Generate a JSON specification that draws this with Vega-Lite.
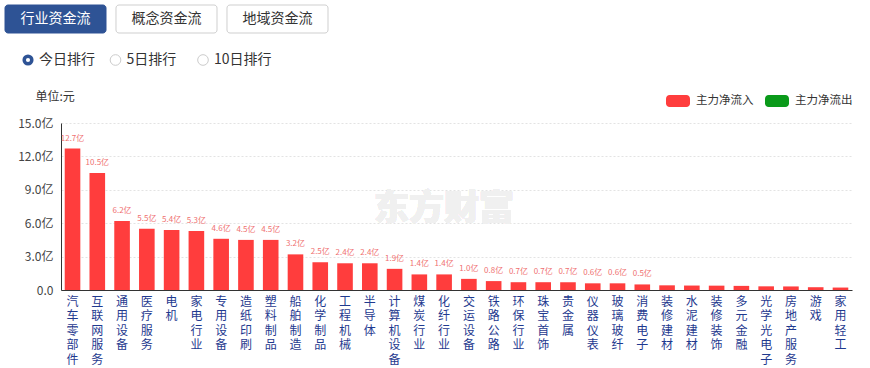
{
  "$schema": "https://vega.github.io/schema/vega-lite/v6.json",
  "width": 791,
  "height": 167,
  "autosize": {"type": "none"},
  "padding": {"left": 61, "top": 123, "right": 18, "bottom": 78},
  "background": "white",
  "config": {"font": "Noto Sans CJK SC", "view": {"stroke": null}},
  "datasets": {
    "flows": [
      {"industry": "汽车零部件", "v": 12.7},
      {"industry": "互联网服务", "v": 10.5},
      {"industry": "通用设备", "v": 6.2},
      {"industry": "医疗服务", "v": 5.5},
      {"industry": "电机", "v": 5.4},
      {"industry": "家电行业", "v": 5.3},
      {"industry": "专用设备", "v": 4.6},
      {"industry": "造纸印刷", "v": 4.5},
      {"industry": "塑料制品", "v": 4.5},
      {"industry": "船舶制造", "v": 3.2},
      {"industry": "化学制品", "v": 2.5},
      {"industry": "工程机械", "v": 2.4},
      {"industry": "半导体", "v": 2.4},
      {"industry": "计算机设备", "v": 1.9},
      {"industry": "煤炭行业", "v": 1.4},
      {"industry": "化纤行业", "v": 1.4},
      {"industry": "交运设备", "v": 1.0},
      {"industry": "铁路公路", "v": 0.8},
      {"industry": "环保行业", "v": 0.7},
      {"industry": "珠宝首饰", "v": 0.7},
      {"industry": "贵金属", "v": 0.7},
      {"industry": "仪器仪表", "v": 0.6},
      {"industry": "玻璃玻纤", "v": 0.6},
      {"industry": "消费电子", "v": 0.5},
      {"industry": "装修建材", "v": 0.42},
      {"industry": "水泥建材", "v": 0.4},
      {"industry": "装修装饰", "v": 0.39},
      {"industry": "多元金融", "v": 0.37},
      {"industry": "光学光电子", "v": 0.33},
      {"industry": "房地产服务", "v": 0.32},
      {"industry": "游戏", "v": 0.25},
      {"industry": "家用轻工", "v": 0.22}
    ],
    "tabs": [
      {"tab": "行业资金流", "sel": true},
      {"tab": "概念资金流", "sel": false},
      {"tab": "地域资金流", "sel": false}
    ],
    "ranks": [
      {"rank": "今日排行", "sel": true},
      {"rank": "5日排行", "sel": false},
      {"rank": "10日排行", "sel": false}
    ]
  },
  "layer": [
    {
      "data": {"name": "flows"},
      "encoding": {
        "x": {
          "field": "industry", "type": "nominal", "sort": null,
          "scale": {"paddingInner": 0.37, "paddingOuter": 0.15},
          "axis": {
            "title": null, "labelAngle": 0, "labelExpr": "split(datum.label, '')",
            "labelBaseline": "top", "labelPadding": 6, "labelLineHeight": 14.5,
            "labelFontSize": 12, "labelColor": "#1f3a8f", "ticks": false,
            "domainColor": "#333333", "labelOverlap": false, "labelBound": false
          }
        },
        "y": {
          "field": "v", "type": "quantitative",
          "scale": {"domain": [0, 15], "nice": false},
          "axis": {
            "values": [0, 3, 6, 9, 12, 15],
            "labelExpr": "datum.value == 0 ? '0.0' : format(datum.value, '.1f') + '亿'",
            "title": "单位:元", "titleAngle": 0, "titleAlign": "left", "titleBaseline": "middle",
            "titleX": -26, "titleY": -27, "titleFontWeight": "normal", "titleFontSize": 12, "titleColor": "#333333",
            "grid": true, "gridDash": [2, 2], "gridColor": "#e3e3e3",
            "domainColor": "#333333", "ticks": false, "labelPadding": 8,
            "labelFontSize": 12, "labelColor": "#444444"
          }
        }
      },
      "layer": [
        {
          "mark": {"type": "bar"},
          "encoding": {
            "color": {
              "datum": "主力净流入",
              "scale": {"domain": ["主力净流入", "主力净流出"], "range": ["#ff3d3d", "#0a9a1a"]},
              "legend": {
                "orient": "none", "legendX": 605, "legendY": -34, "direction": "horizontal",
                "title": null,
                "symbolType": "M-1,-0.2A0.3,0.3 0 0 1 -0.7,-0.5H0.7A0.3,0.3 0 0 1 1,-0.2V0.2A0.3,0.3 0 0 1 0.7,0.5H-0.7A0.3,0.3 0 0 1 -1,0.2Z",
                "symbolSize": 576, "symbolStrokeWidth": 0, "symbolOpacity": 1,
                "labelFontSize": 11.5, "labelColor": "#333333", "labelOffset": 6, "columnPadding": 11
              }
            }
          }
        },
        {
          "mark": {"type": "text", "fontSize": 35, "fontWeight": 900, "color": "#f0f0f0"},
          "encoding": {
            "x": {"datum": "化纤行业", "type": "nominal"},
            "y": {"datum": 7.3, "type": "quantitative"},
            "text": {"value": "东方财富"}
          }
        },
        {
          "transform": [
            {"filter": "datum.v >= 0.45"},
            {"calculate": "format(datum.v, '.1f') + '亿'", "as": "label"}
          ],
          "mark": {"type": "text", "baseline": "bottom", "dy": -6, "fontSize": 8, "color": "#ef7070"},
          "encoding": {"text": {"field": "label"}}
        }
      ]
    },
    {
      "data": {"name": "tabs"},
      "encoding": {
        "x": {"field": "tab", "type": "nominal", "sort": null,
              "scale": {"range": [-56, 267], "paddingInner": 0.09, "paddingOuter": 0}, "axis": null},
        "y": {"datum": "t", "type": "nominal", "scale": {"domain": ["t"], "range": [-118, -90], "padding": 0}, "axis": null}
      },
      "layer": [
        {
          "mark": {"type": "rect", "cornerRadius": 3, "stroke": "#cfcfcf", "strokeWidth": 1},
          "encoding": {
            "fill": {"condition": {"test": "datum.sel", "value": "#2e5395"}, "value": "#ffffff"},
            "stroke": {"condition": {"test": "datum.sel", "value": "#2e5395"}, "value": "#cfcfcf"}
          }
        },
        {
          "mark": {"type": "text", "fontSize": 14},
          "encoding": {
            "text": {"field": "tab"},
            "color": {"condition": {"test": "datum.sel", "value": "#ffffff"}, "value": "#333333"}
          }
        }
      ]
    },
    {
      "data": {"name": "ranks"},
      "encoding": {
        "x": {"field": "rank", "type": "nominal", "sort": null,
              "scale": {"type": "point", "range": [-33, 142], "padding": 0}, "axis": null},
        "y": {"datum": "r", "type": "nominal", "scale": {"type": "point", "domain": ["r"], "range": [-63, -63], "padding": 0}, "axis": null}
      },
      "layer": [
        {
          "mark": {"type": "point", "shape": "circle", "filled": false},
          "encoding": {
            "size": {"condition": {"test": "datum.sel", "value": 58}, "value": 113},
            "strokeWidth": {"condition": {"test": "datum.sel", "value": 3.5}, "value": 1},
            "stroke": {"condition": {"test": "datum.sel", "value": "#2e5395"}, "value": "#cccccc"},
            "opacity": {"value": 1}
          }
        },
        {
          "mark": {"type": "text", "fontSize": 14, "align": "left", "dx": 11, "color": "#333333"},
          "encoding": {"text": {"field": "rank"}}
        }
      ]
    }
  ],
  "resolve": {"scale": {"x": "independent", "y": "independent"}}
}
